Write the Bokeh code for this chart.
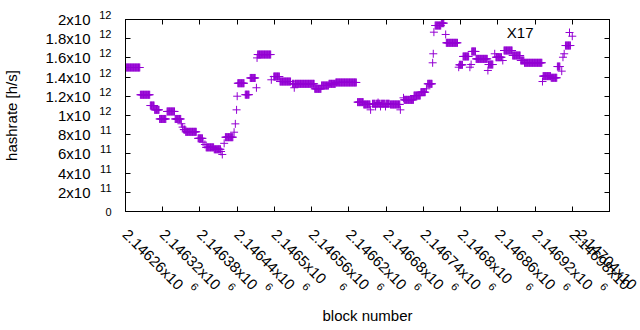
import math
import numpy as np
from bokeh.plotting import figure
from bokeh.models import (Range1d, FixedTicker, LinearAxis, Label, Legend, LegendItem)
from bokeh.embed import file_html
from bokeh.resources import INLINE

# ---------------- data (run-length encoded: consecutive blocks sharing one hashrate) -------------
run_start = [2146260, 2146284, 2146300, 2146307, 2146315, 2146327, 2146340, 2146350, 2146352,
             2146354, 2146357, 2146377, 2146385, 2146388, 2146390, 2146403, 2146414, 2146416,
             2146419, 2146421, 2146435, 2146437, 2146439, 2146440, 2146441, 2146453, 2146461,
             2146471, 2146472, 2146473, 2146495, 2146499, 2146509, 2146529, 2146532, 2146533,
             2146565, 2146576, 2146588, 2146599, 2146634, 2146644, 2146655, 2146658, 2146663,
             2146664, 2146667, 2146668, 2146671, 2146672, 2146679, 2146680, 2146687, 2146703,
             2146708, 2146709, 2146725, 2146736, 2146745, 2146747, 2146755, 2146756, 2146757,
             2146759, 2146769, 2146776, 2146777, 2146797, 2146798, 2146804, 2146815, 2146817,
             2146818, 2146825, 2146844, 2146845, 2146855, 2146857, 2146868, 2146870, 2146884,
             2146897, 2146903, 2146932, 2146933, 2146946, 2146956, 2146963, 2146965, 2146967,
             2146969, 2146980]
run_end = [2146283, 2146299, 2146306, 2146314, 2146325, 2146339, 2146349, 2146350, 2146352,
           2146356, 2146374, 2146384, 2146385, 2146388, 2146402, 2146413, 2146414, 2146416,
           2146419, 2146433, 2146435, 2146437, 2146439, 2146440, 2146451, 2146459, 2146469,
           2146471, 2146472, 2146494, 2146495, 2146508, 2146526, 2146531, 2146532, 2146564,
           2146575, 2146587, 2146598, 2146632, 2146643, 2146654, 2146655, 2146662, 2146663,
           2146666, 2146667, 2146670, 2146671, 2146678, 2146679, 2146685, 2146702, 2146703,
           2146708, 2146724, 2146735, 2146743, 2146745, 2146754, 2146755, 2146756, 2146757,
           2146768, 2146773, 2146776, 2146795, 2146797, 2146803, 2146813, 2146815, 2146817,
           2146824, 2146843, 2146844, 2146852, 2146855, 2146866, 2146868, 2146883, 2146896,
           2146902, 2146931, 2146932, 2146945, 2146955, 2146960, 2146963, 2146965, 2146967,
           2146977, 2146980]
run_hashrate = [1.500e12, 1.216e12, 1.104e12, 1.059e12, 0.964e12, 1.042e12, 0.964e12, 0.914e12,
                0.879e12, 0.853e12, 0.830e12, 0.762e12, 0.722e12, 0.698e12, 0.668e12, 0.648e12,
                0.625e12, 0.594e12, 0.710e12, 0.774e12, 0.826e12, 0.913e12, 1.059e12, 1.201e12,
                1.336e12, 1.217e12, 1.391e12, 1.289e12, 1.600e12, 1.635e12, 1.372e12, 1.406e12,
                1.354e12, 1.330e12, 1.289e12, 1.330e12, 1.278e12, 1.3125e12, 1.330e12, 1.344e12,
                1.139e12, 1.115e12, 1.059e12, 1.122e12, 1.094e12, 1.122e12, 1.135e12, 1.122e12,
                1.094e12, 1.122e12, 1.094e12, 1.122e12, 1.115e12, 1.059e12, 1.184e12, 1.163e12,
                1.208e12, 1.243e12, 1.278e12, 1.330e12, 1.549e12, 1.643e12, 1.868e12, 1.9375e12,
                1.962e12, 1.844e12, 1.757e12, 1.503e12, 1.528e12, 1.615e12, 1.503e12, 1.531e12,
                1.667e12, 1.590e12, 1.469e12, 1.531e12, 1.643e12, 1.607e12, 1.573e12, 1.677e12,
                1.625e12, 1.573e12, 1.549e12, 1.354e12, 1.410e12, 1.393e12, 1.510e12, 1.462e12,
                1.607e12, 1.643e12, 1.729e12, 1.826e12]

x_ticks = list(range(2146260, 2147041, 60))
y_ticks = [0, 200000000000, 400000000000, 600000000000, 800000000000, 1000000000000,
           1200000000000, 1400000000000, 1600000000000, 1800000000000, 2000000000000]
series_name = "X17"
x_title = "block number"
y_title = "hashrate [h/s]"

# expand runs into one point per block
blocks, rates = [], []
for s, e, v in zip(run_start, run_end, run_hashrate):
    for b in range(s, e + 1):
        blocks.append(b)
        rates.append(v)

FONT = "Liberation Sans"
PURPLE = "#9400d3"
FS = "15px"
SFS = "11px"
X0, X1 = x_ticks[0], x_ticks[-1]
Y0, Y1 = y_ticks[0], y_ticks[-1]

p = figure(width=640, height=330, output_backend="svg", toolbar_location=None,
           x_range=Range1d(X0, X1), y_range=Range1d(Y0, Y1),
           x_axis_location=None, y_axis_location=None,
           min_border_left=124, min_border_right=31, min_border_top=19, min_border_bottom=119)
p.outline_line_color = "black"
p.outline_line_width = 1
p.grid.visible = False
p.background_fill_color = "white"
p.border_fill_color = "white"

r = p.scatter(x=blocks, y=rates, marker="cross", size=8, line_color=PURPLE, line_width=1)


def base_axis(ticks, overrides, font_size=FS, standoff=0, ticks_in=0, line=False, **kw):
    return LinearAxis(ticker=FixedTicker(ticks=ticks), major_label_overrides=overrides,
                      major_label_standoff=standoff, major_label_text_font=FONT,
                      major_label_text_font_size=font_size, major_label_text_color="black",
                      major_tick_in=ticks_in, major_tick_out=0, minor_tick_line_color=None,
                      major_tick_line_color="black" if ticks_in else None,
                      axis_line_color="black" if line else None, **kw)


def mant_exp(v):
    e = int(math.floor(math.log10(v) + 1e-9))
    return "%g" % (v / 10 ** e), str(e)

# ---- left side: nearest axis carries "0" and the raised exponents, outer one the mantissas
# (a trailing empty line lifts the exponent above the tick, like gnuplot's superscript)
exp_ax = base_axis(y_ticks, {v: ("0" if v == 0 else mant_exp(v)[1] + "\n") for v in y_ticks},
                   font_size=SFS, standoff=14, ticks_in=5, line=True,
                   major_label_text_line_height=0.75)
man_ax = base_axis(y_ticks, {v: ("" if v == 0 else mant_exp(v)[0] + "x10") for v in y_ticks},
                   standoff=6, axis_label=y_title, axis_label_standoff=22,
                   axis_label_text_font=FONT, axis_label_text_font_size=FS,
                   axis_label_text_font_style="normal", axis_label_text_color="black")
p.add_layout(exp_ax, "left")
p.add_layout(man_ax, "left")

# ---- bottom: rotated mantissas (nearest), then rotated exponents, then title
sup_dx_blocks = 108
xm_ax = base_axis(x_ticks, {t: "%gx10" % (t / 1e6) for t in x_ticks}, standoff=20,
                  ticks_in=5, line=True, major_label_orientation=-math.pi / 4)
xs_ticks = [t + sup_dx_blocks for t in x_ticks if t + sup_dx_blocks <= X1]
xs_ax = base_axis(xs_ticks, {t: "6" for t in xs_ticks}, font_size=SFS, standoff=-17,
                  major_label_orientation=-math.pi / 4,
                  axis_label=x_title, axis_label_standoff=10,
                  axis_label_text_font=FONT, axis_label_text_font_size=FS,
                  axis_label_text_font_style="normal", axis_label_text_color="black")
p.add_layout(xm_ax, "below")
p.add_layout(xs_ax, "below")

# ---- mirrored ticks on top and right, no labels
top_ax = base_axis(x_ticks, {t: "" for t in x_ticks}, ticks_in=5, line=True)
right_ax = base_axis(y_ticks, {v: "" for v in y_ticks}, ticks_in=5, line=True)
top_ax.major_label_text_color = None
right_ax.major_label_text_color = None
p.add_layout(top_ax, "above")
p.add_layout(right_ax, "right")

# key: text on the left, sample on the right (gnuplot style)
p.add_layout(Label(x=X1, y=Y1, x_offset=-76, y_offset=-12.7, text=series_name,
                   text_align="right", text_baseline="middle", text_font=FONT,
                   text_font_size=FS, text_color="black"))
leg = Legend(items=[LegendItem(label=" ", renderers=[r])], location=(433.7, 169),
             padding=0, margin=0, spacing=0, glyph_width=20, glyph_height=20,
             label_width=0, label_standoff=0, label_text_font_size="1px",
             border_line_color=None, background_fill_alpha=0)
p.add_layout(leg, "center")

open("out.html", "w").write(file_html(p, INLINE))
